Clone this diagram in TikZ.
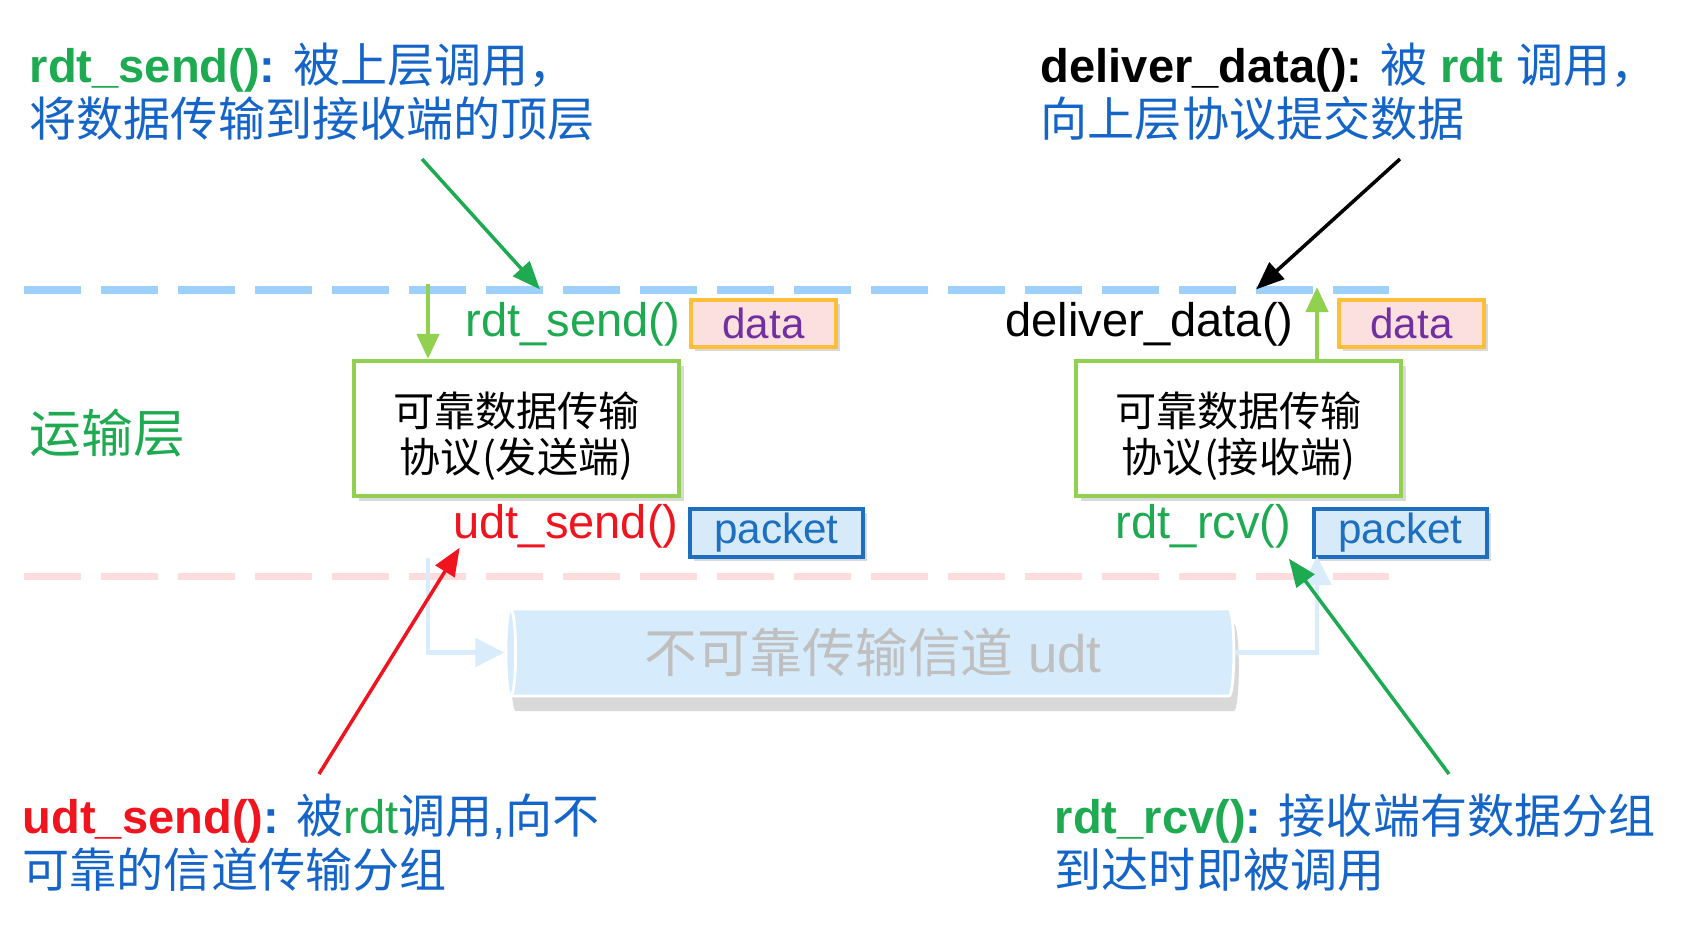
\documentclass[tikz,border=0pt]{standalone}
\usepackage{fontspec}
\setmainfont{Liberation Sans}
\newfontfamily\zh{Noto Sans CJK SC}
\usepackage{tikz}
\usetikzlibrary{positioning,arrows.meta,shapes.geometric,shadows}
\definecolor{CallGreen}{HTML}{1DAA50}
\definecolor{FlowGreen}{HTML}{92D050}
\definecolor{NoteBlue}{HTML}{1565C8}
\definecolor{CallRed}{HTML}{F0141E}
\definecolor{DataPurple}{HTML}{7030A0}
\definecolor{DataFill}{HTML}{FCE0E0}
\definecolor{DataEdge}{HTML}{FFBF3A}
\definecolor{PktFill}{HTML}{D6EAFA}
\definecolor{PktEdge}{HTML}{1D6FBF}
\definecolor{UpperDash}{HTML}{9DD0FA}
\definecolor{LowerDash}{HTML}{FCDCDC}
\definecolor{ChanFill}{HTML}{D6EBFB}
\definecolor{ChanFlow}{HTML}{D8ECFB}
\definecolor{ChanText}{HTML}{BFBFBF}

\begin{document}
\begin{tikzpicture}[every node/.style={inner sep=0pt},
    note/.style={anchor=west, align=left, text=NoteBlue,
      font=\fontsize{13.4}{15.4}\selectfont},
    call/.style={font=\fontsize{13.4}{16}\selectfont},
    proto/.style={draw=FlowGreen, line width=1.2pt, fill=white,
      minimum width=3.25cm, minimum height=1.35cm, align=center,
      font=\fontsize{11.7}{13.2}\selectfont\zh,
      drop shadow={shadow xshift=0.05cm, shadow yshift=-0.05cm, opacity=0.3}},
    databox/.style={draw=DataEdge, fill=DataFill, line width=1pt,
      minimum width=1.45cm, minimum height=0.47cm, text=DataPurple,
      font=\fontsize{12}{14}\selectfont,
      drop shadow={shadow xshift=0.04cm, shadow yshift=-0.04cm, opacity=0.3}},
    pktbox/.style={draw=PktEdge, fill=PktFill, line width=1pt,
      minimum width=1.73cm, minimum height=0.48cm, text=PktEdge,
      font=\fontsize{12}{14}\selectfont,
      drop shadow={shadow xshift=0.04cm, shadow yshift=-0.04cm, opacity=0.3}},
    layerline/.style={dash pattern=on 0.57cm off 0.2cm, line width=2pt},
    ar/.style={-{Triangle[length=0.28cm,width=0.22cm]}, line width=1pt},
    flow/.style={-{Triangle[length=0.25cm,width=0.22cm]}, line width=1.2pt, FlowGreen},
    chflow/.style={-{Triangle[length=0.29cm,width=0.28cm]}, line width=1.4pt, ChanFlow}]
  \useasboundingbox (0,0) rectangle (16.98,-9.46);

  % layer borders
  \draw[layerline, UpperDash] (0.24,-2.90) -- (13.89,-2.90);
  \draw[layerline, LowerDash] (0.24,-5.76) -- (13.89,-5.76);

  % notes
  \node[note] (sndnote) at (0.29,-0.92)
    {{\bfseries\color{CallGreen}rdt\_send()}{\bfseries:} {\zh 被上层调用，}\\{\zh 将数据传输到接收端的顶层}};
  \node[note] (dlvnote) at (10.40,-0.92)
    {{\bfseries\color{black}deliver\_data():} {\zh 被} {\bfseries\color{CallGreen}rdt} {\zh 调用，}\\{\zh 向上层协议提交数据}};
  \node[note] (udtnote) at (0.22,-8.43)
    {{\bfseries\color{CallRed}udt\_send()}{\bfseries:} {\zh 被}{\color{CallGreen}rdt}{\zh 调用},{\zh 向不}\\{\zh 可靠的信道传输分组}};
  \node[note] (rcvnote) at (10.54,-8.43)
    {{\bfseries\color{CallGreen}rdt\_rcv()}{\bfseries:} {\zh 接收端有数据分组}\\{\zh 到达时即被调用}};
  \node[anchor=west, text=CallGreen, font=\fontsize{14.7}{16}\selectfont\zh] (tlayer) at (0.29,-4.33) {运输层};

  % sender side
  \node[proto] (sndbox) at (5.165,-4.285) {\rule{0pt}{0.5cm}可靠数据传输\\协议(发送端)};
  \node[call, text=CallGreen] (sndcall) at (5.73,-3.24) {rdt\_send()};
  \node[databox] (snddata) at (7.635,-3.235) {data};
  \node[call, text=CallRed] (udtcall) at (5.66,-5.26) {udt\_send()};
  \node[pktbox] (sndpkt) at (7.765,-5.33) {packet};

  % receiver side
  \node[proto] (rcvbox) at (12.385,-4.285) {\rule{0pt}{0.5cm}可靠数据传输\\协议(接收端)};
  \node[call] (dlvcall) at (11.495,-3.24) {deliver\_data()};
  \node[databox] (rcvdata) at (14.115,-3.235) {data};
  \node[call, text=CallGreen] (rcvcall) at (12.035,-5.26) {rdt\_rcv()};
  \node[pktbox] (rcvpkt) at (14.005,-5.33) {packet};

  % channel
  \node[cylinder, shape border rotate=180, aspect=0.2,
    minimum height=7.28cm, minimum width=0.87cm,
    fill=ChanFill, draw=white, line width=0.8pt, text=ChanText,
    font=\fontsize{15}{18}\selectfont,
    drop shadow={shadow xshift=0.05cm, shadow yshift=-0.15cm, opacity=0.3}]
    (chan) at (8.73,-6.525) {{\zh 不可靠传输信道} udt};

  \coordinate (sndin) at (4.28,-2.84);
  \coordinate (rcvout) at (13.17,-2.87);
  \coordinate (chin) at (4.28,-5.58);
  \coordinate (chout) at (13.17,-5.56);
  \draw[flow] (sndin) -- (sndin |- sndbox.north);
  \draw[flow] (rcvout |- rcvbox.north) -- (rcvout);
  \draw[chflow] (chin) |- (chan.west);
  \draw[chflow] (chan.east) -| (chout);

  % note arrows
  \coordinate (sndtail) at (4.22,-1.59);
  \coordinate (dlvtail) at (14.00,-1.59);
  \coordinate (udttail) at (3.19,-7.74);
  \coordinate (rcvtail) at (14.49,-7.74);
  \draw[ar, CallGreen] (sndtail) -- ([xshift=0.75cm,yshift=0.12cm]sndcall.north west);
  \draw[ar, black] (dlvtail) -- ([xshift=-0.38cm,yshift=0.12cm]dlvcall.north east);
  \draw[ar, CallRed] (udttail) -- ([xshift=0.07cm,yshift=0.01cm]udtcall.south west);
  \draw[ar, CallGreen] (rcvtail) -- ([xshift=-0.03cm,yshift=-0.1cm]rcvcall.south east);
\end{tikzpicture}
\end{document}
